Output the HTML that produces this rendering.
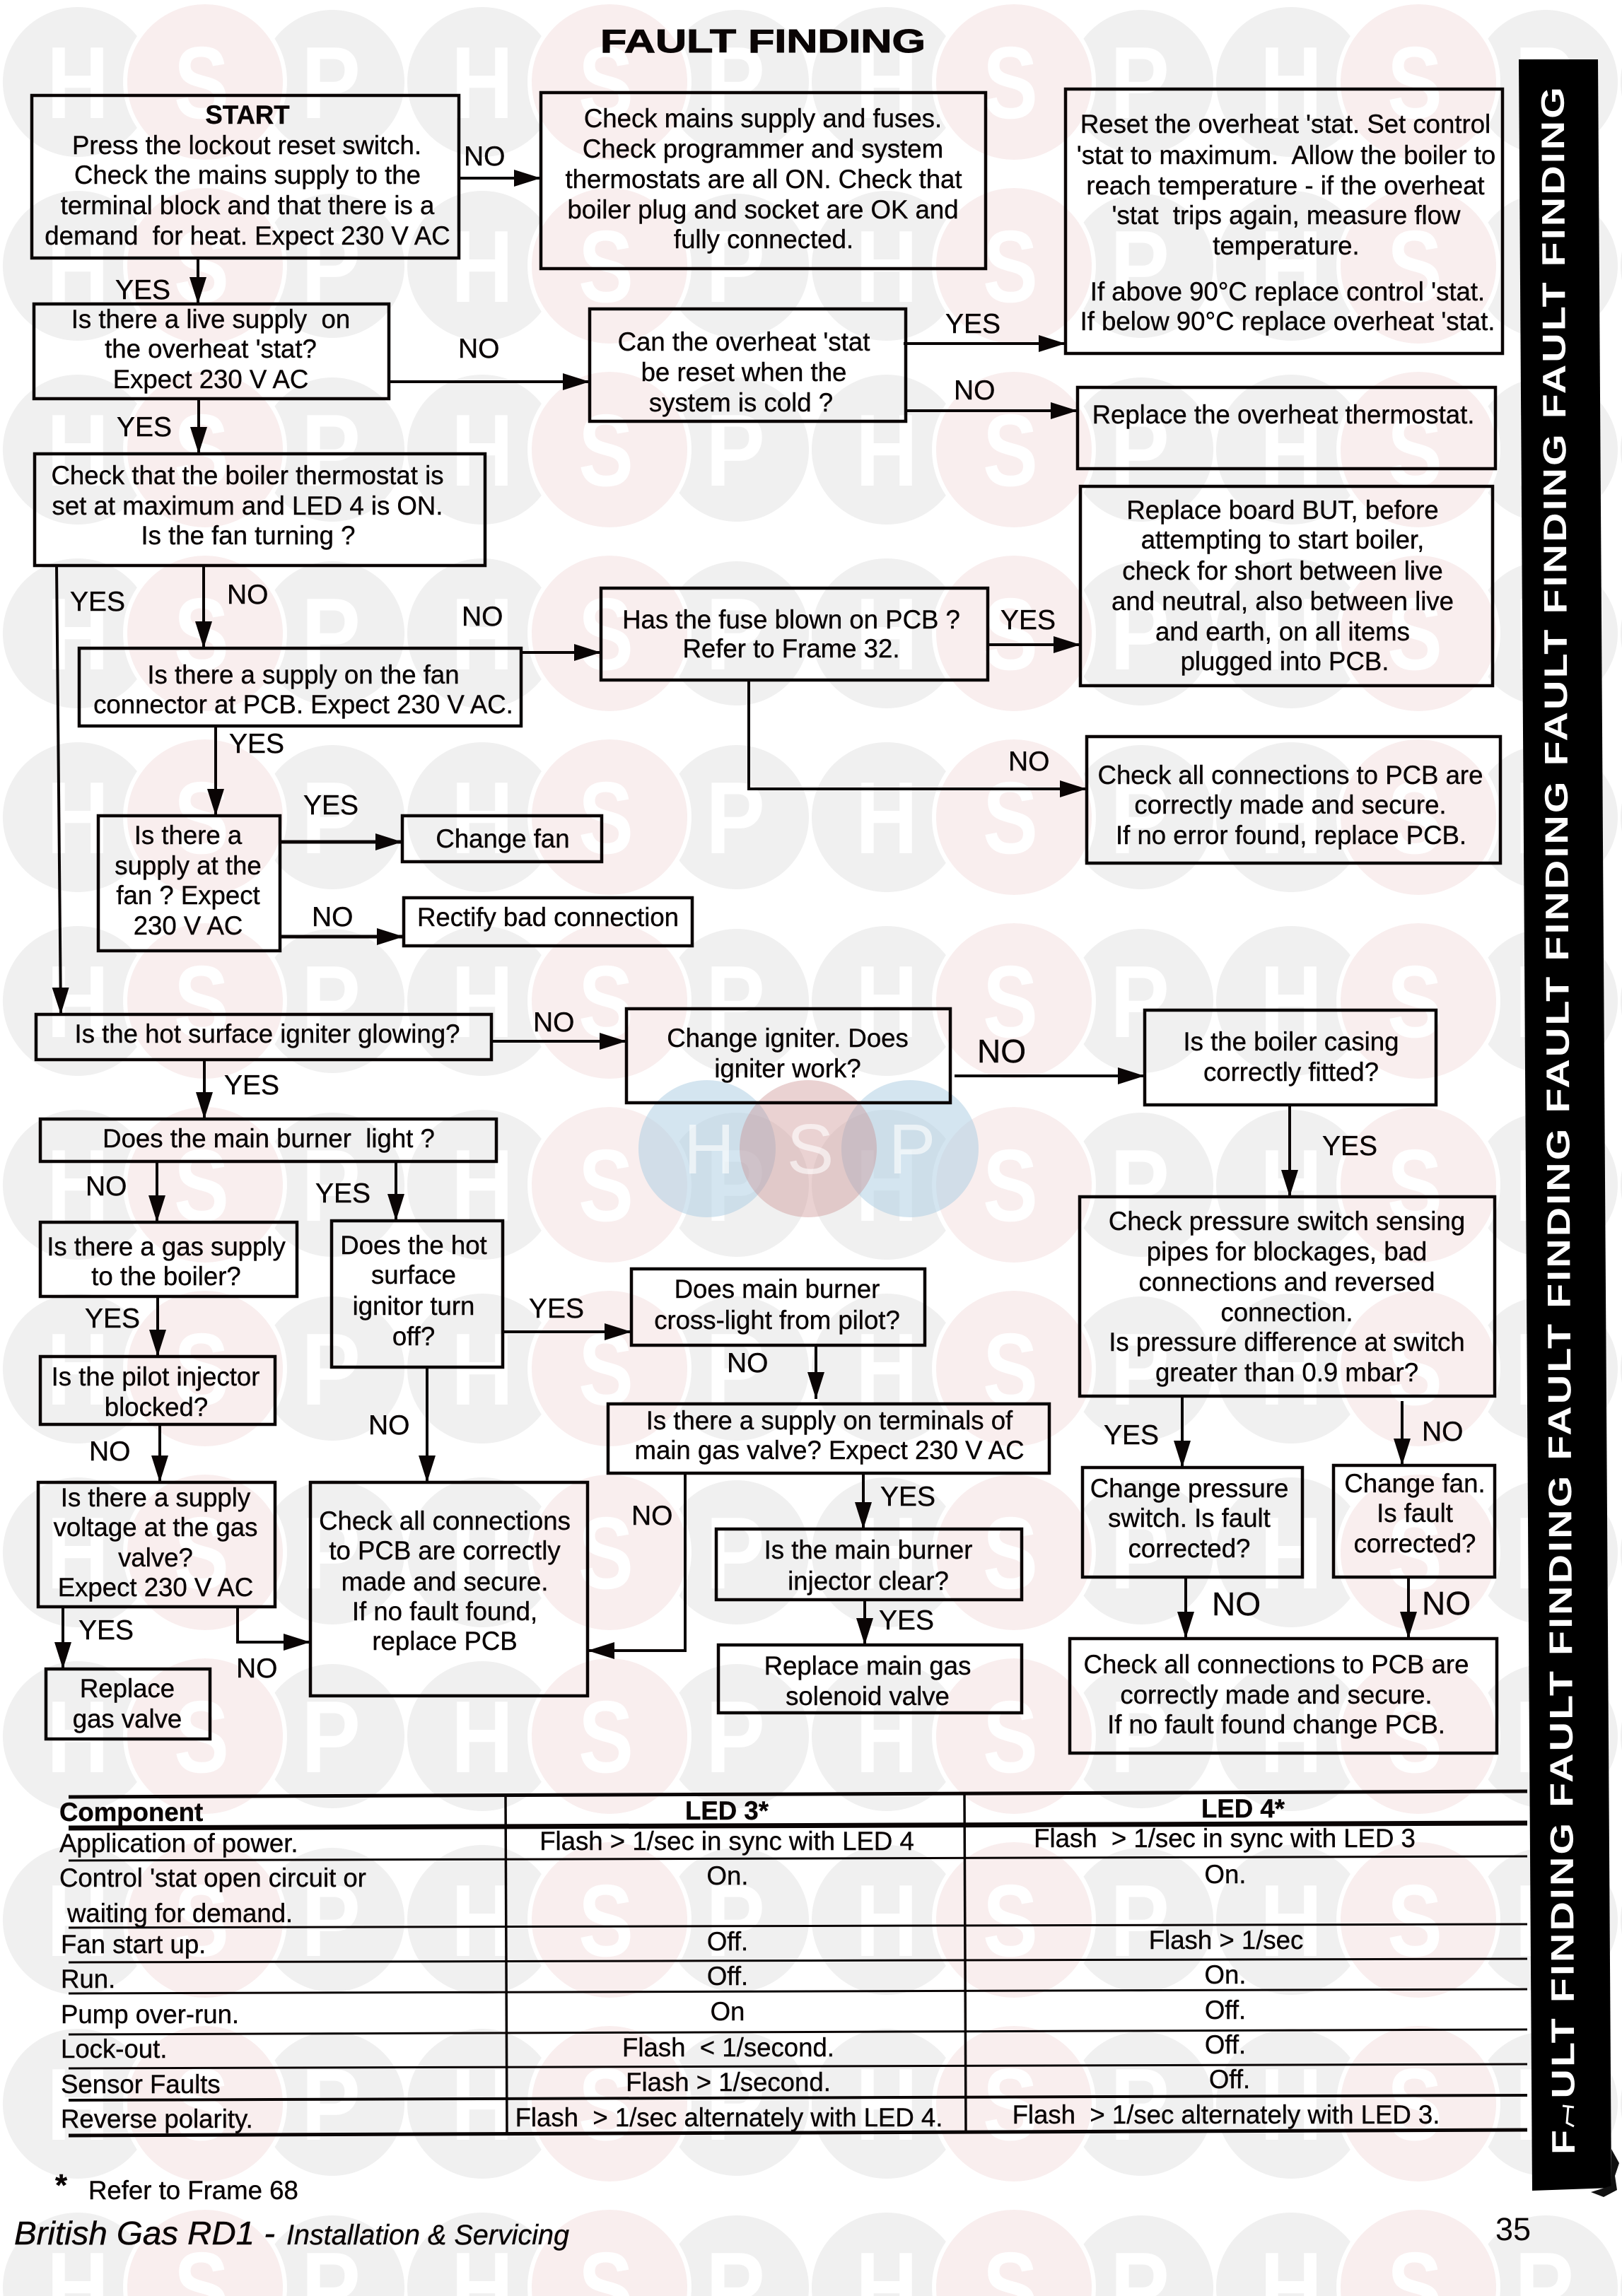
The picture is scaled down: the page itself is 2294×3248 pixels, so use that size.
<!DOCTYPE html>
<html lang="en">
<head>
<meta charset="utf-8">
<title>Fault Finding</title>
<style>
html,body{margin:0;padding:0;background:#fff}
svg{display:block}
text{font-family:"Liberation Sans",sans-serif;white-space:pre}
#t text{font-size:36.6px;text-anchor:middle;fill:#0a0505;stroke:#0a0505;stroke-width:.4}
#t text.l{text-anchor:start}
#t text.b{font-weight:bold}
#y text{font-size:39px;fill:#0a0505;stroke:#0a0505;stroke-width:.4}
#y text.g{font-size:46px}
#w text{font-weight:bold;font-size:145px;fill:#fff;text-anchor:middle}
</style>
</head>
<body>
<svg xmlns="http://www.w3.org/2000/svg" width="2294" height="3248" viewBox="0 0 2294 3248">
<defs>
<pattern id="wm" patternUnits="userSpaceOnUse" x="0" y="0" width="572" height="260">
<g id="w">
<circle cx="110" cy="116" r="106" fill="#f0f0f0"/>
<circle cx="470" cy="116" r="102" fill="#f0f0f0"/>
<circle cx="290" cy="116" r="110" fill="#f9eeee" stroke="#fff" stroke-width="0"/>
<path d="M290 3a113 113 0 1 0 .01 0Z" fill="none" stroke="#fff" stroke-width="6"/>
<text x="110" y="167" textLength="88" lengthAdjust="spacingAndGlyphs">H</text>
<text x="285" y="167" textLength="78" lengthAdjust="spacingAndGlyphs">S</text>
<text x="468" y="167" textLength="84" lengthAdjust="spacingAndGlyphs">P</text>
</g>
</pattern>
<marker id="a" markerUnits="userSpaceOnUse" markerWidth="40" markerHeight="26" refX="38" refY="13" orient="auto"><path d="M0,1 L38,13 L0,25Z" fill="#0a0505"/></marker>
</defs>
<rect width="2294" height="3248" fill="#fff"/>
<rect width="2294" height="3248" fill="url(#wm)"/>

<!-- central watermark -->
<circle cx="1000" cy="1625" r="97" fill="#a9cbe2" fill-opacity=".5"/>
<circle cx="1287" cy="1625" r="97" fill="#a9cbe2" fill-opacity=".5"/>
<circle cx="1143" cy="1625" r="97" fill="#c98a8a" fill-opacity=".38"/>
<g font-size="100" fill="#fff" fill-opacity=".6" text-anchor="middle">
<text x="1003" y="1660">H</text><text x="1146" y="1660">S</text><text x="1290" y="1660">P</text>
</g>

<!-- title -->
<text x="849" y="74" font-size="46" font-weight="bold" fill="#0a0505" stroke="#0a0505" stroke-width="1" textLength="460" lengthAdjust="spacingAndGlyphs">FAULT FINDING</text>

<!-- side band -->
<polygon points="2148,84 2260,84 2279,3095 2167,3099" fill="#000"/>
<polygon points="2279,3040 2290,3060 2284,3078 2287,3098 2268,3108 2250,3101 2279,3092" fill="#111"/>
<text transform="translate(2227,3048) rotate(-90.3) scale(1.25,1)" font-size="46" font-weight="bold" fill="#fff" textLength="2340" lengthAdjust="spacing">FAULT FINDING FAULT FINDING FAULT FINDING FAULT FINDING FAULT FINDING FAULT FINDING</text>
<rect x="2186" y="2970" width="50" height="45" fill="#000"/>
<path d="M2210 2979L2226 2981M2218 2980L2216 3003L2226 3008" stroke="#fff" stroke-width="3" fill="none"/>

<!-- boxes -->
<g fill="none" stroke="#0a0505" stroke-width="4.5">
<rect x="45" y="135" width="604" height="230"/>
<rect x="765" y="131" width="629" height="249"/>
<rect x="1507" y="126" width="618" height="374"/>
<rect x="834" y="437" width="447" height="159"/>
<rect x="48" y="430" width="502" height="134"/>
<rect x="49" y="642" width="637" height="158"/>
<rect x="1524" y="548" width="591" height="115"/>
<rect x="1528" y="688" width="583" height="282"/>
<rect x="850" y="832" width="547" height="130"/>
<rect x="1537" y="1042" width="585" height="179"/>
<rect x="112" y="917" width="625" height="110"/>
<rect x="139" y="1154" width="257" height="191"/>
<rect x="569" y="1154" width="282" height="65"/>
<rect x="571" y="1270" width="408" height="68"/>
<rect x="51" y="1435" width="644" height="64"/>
<rect x="57" y="1583" width="645" height="60"/>
<rect x="57" y="1729" width="363" height="105"/>
<rect x="57" y="1919" width="332" height="96"/>
<rect x="54" y="2097" width="335" height="176"/>
<rect x="65" y="2361" width="232" height="99"/>
<rect x="469" y="1727" width="242" height="207"/>
<rect x="439" y="2097" width="392" height="302"/>
<rect x="886" y="1427" width="458" height="133"/>
<rect x="1619" y="1429" width="412" height="134"/>
<rect x="1527" y="1693" width="587" height="282"/>
<rect x="893" y="1795" width="415" height="108"/>
<rect x="860" y="1986" width="624" height="98"/>
<rect x="1013" y="2163" width="432" height="100"/>
<rect x="1016" y="2327" width="429" height="96"/>
<rect x="1531" y="2076" width="311" height="155"/>
<rect x="1886" y="2073" width="228" height="158"/>
<rect x="1513" y="2318" width="604" height="162"/>
</g>

<!-- connectors -->
<g fill="none" stroke="#0a0505" stroke-width="4">
<path d="M649 252H765" marker-end="url(#a)"/>
<path d="M280 365V430" marker-end="url(#a)"/>
<path d="M550 540H834" marker-end="url(#a)"/>
<path d="M281 564V642" marker-end="url(#a)"/>
<path d="M1278 486H1507" marker-end="url(#a)"/>
<path d="M1281 581H1524" marker-end="url(#a)"/>
<path d="M80 800L86 1435" marker-end="url(#a)"/>
<path d="M288 800V917" marker-end="url(#a)"/>
<path d="M737 923H850" marker-end="url(#a)"/>
<path d="M1397 912H1528" marker-end="url(#a)"/>
<path d="M1059 962V1116H1537" marker-end="url(#a)"/>
<path d="M305 1027V1154" marker-end="url(#a)"/>
<path d="M396 1191H569" stroke-width="5" marker-end="url(#a)"/>
<path d="M396 1325H571" stroke-width="5" marker-end="url(#a)"/>
<path d="M695 1473H886" marker-end="url(#a)"/>
<path d="M289 1499V1583" marker-end="url(#a)"/>
<path d="M222 1643V1729" marker-end="url(#a)"/>
<path d="M560 1643V1727" marker-end="url(#a)"/>
<path d="M223 1834V1919" marker-end="url(#a)"/>
<path d="M226 2015V2097" marker-end="url(#a)"/>
<path d="M89 2273V2361" marker-end="url(#a)"/>
<path d="M336 2273V2323H439" marker-end="url(#a)"/>
<path d="M711 1884H893" marker-end="url(#a)"/>
<path d="M604 1934V2097" marker-end="url(#a)"/>
<path d="M1154 1903V1979" marker-end="url(#a)"/>
<path d="M969 2084V2335H831" marker-end="url(#a)"/>
<path d="M1221 2084V2163" marker-end="url(#a)"/>
<path d="M1223 2263V2327" marker-end="url(#a)"/>
<path d="M1350 1522H1619" marker-end="url(#a)"/>
<path d="M1824 1563V1693" marker-end="url(#a)"/>
<path d="M1672 1975V2076" marker-end="url(#a)"/>
<path d="M1983 1982V2073" marker-end="url(#a)"/>
<path d="M1677 2231V2318" marker-end="url(#a)"/>
<path d="M1992 2231V2318" marker-end="url(#a)"/>
</g>

<!-- table rules -->
<g stroke="#0a0505" fill="none">
<path d="M97 2542L2160 2534" stroke-width="5"/>
<path d="M97 2586L2160 2579" stroke-width="7"/>
<path d="M97 2632L2160 2626" stroke-width="3"/>
<path d="M97 2727L2160 2722" stroke-width="3"/>
<path d="M97 2776L2160 2771" stroke-width="3"/>
<path d="M97 2820L2160 2814" stroke-width="3"/>
<path d="M97 2878L2160 2871" stroke-width="3"/>
<path d="M97 2926L2160 2920" stroke-width="3"/>
<path d="M97 2971L2160 2964" stroke-width="4"/>
<path d="M97 3021L2160 3013" stroke-width="5"/>
<path d="M715 2540L717 3020" stroke-width="3.5"/>
<path d="M1364 2536L1366 3015" stroke-width="3.5"/>
</g>

<!-- box text -->
<g id="t">
<text class="b" x="350" y="175">START</text>
<text x="349" y="218">Press the lockout reset switch.</text>
<text x="350" y="260">Check the mains supply to the</text>
<text x="350" y="303">terminal block and that there is a</text>
<text x="350" y="346">demand  for heat. Expect 230 V AC</text>

<text x="1079" y="180">Check mains supply and fuses.</text>
<text x="1079" y="223">Check programmer and system</text>
<text x="1080" y="266">thermostats are all ON. Check that</text>
<text x="1079" y="309">boiler plug and socket are OK and</text>
<text x="1080" y="351">fully connected.</text>

<text x="1818" y="188">Reset the overheat 'stat. Set control</text>
<text x="1819" y="232">'stat to maximum.  Allow the boiler to</text>
<text x="1818" y="275">reach temperature - if the overheat</text>
<text x="1819" y="317">'stat  trips again, measure flow</text>
<text x="1819" y="360">temperature.</text>
<text x="1821" y="425">If above 90°C replace control 'stat.</text>
<text x="1821" y="467">If below 90°C replace overheat 'stat.</text>

<text x="1052" y="496">Can the overheat 'stat</text>
<text x="1052" y="539">be reset when the</text>
<text x="1048" y="582">system is cold ?</text>

<text x="298" y="464">Is there a live supply  on</text>
<text x="298" y="506">the overheat 'stat?</text>
<text x="298" y="549">Expect 230 V AC</text>

<text x="350" y="685">Check that the boiler thermostat is</text>
<text x="350" y="728">set at maximum and LED 4 is ON.</text>
<text x="351" y="770">Is the fan turning ?</text>

<text x="1815" y="599">Replace the overheat thermostat.</text>

<text x="1814" y="734">Replace board BUT, before</text>
<text x="1814" y="776">attempting to start boiler,</text>
<text x="1814" y="820">check for short between live</text>
<text x="1814" y="863">and neutral, also between live</text>
<text x="1814" y="906">and earth, on all items</text>
<text x="1817" y="948">plugged into PCB.</text>

<text x="1119" y="889">Has the fuse blown on PCB ?</text>
<text x="1119" y="930">Refer to Frame 32.</text>

<text x="1825" y="1109">Check all connections to PCB are</text>
<text x="1825" y="1151">correctly made and secure.</text>
<text x="1826" y="1194">If no error found, replace PCB.</text>

<text x="429" y="967">Is there a supply on the fan</text>
<text x="429" y="1009">connector at PCB. Expect 230 V AC.</text>

<text x="266" y="1194">Is there a</text>
<text x="266" y="1237">supply at the</text>
<text x="266" y="1279">fan ? Expect</text>
<text x="266" y="1322">230 V AC</text>

<text x="711" y="1199">Change fan</text>
<text x="775" y="1310">Rectify bad connection</text>

<text x="378" y="1475">Is the hot surface igniter glowing?</text>
<text x="380" y="1623">Does the main burner  light ?</text>

<text x="235" y="1776">Is there a gas supply</text>
<text x="235" y="1818">to the boiler?</text>

<text x="220" y="1960">Is the pilot injector</text>
<text x="221" y="2003">blocked?</text>

<text x="220" y="2131">Is there a supply</text>
<text x="220" y="2173">voltage at the gas</text>
<text x="220" y="2216">valve?</text>
<text x="220" y="2258">Expect 230 V AC</text>

<text x="180" y="2401">Replace</text>
<text x="180" y="2444">gas valve</text>

<text x="585" y="1774">Does the hot</text>
<text x="585" y="1816">surface</text>
<text x="585" y="1860">ignitor turn</text>
<text x="585" y="1903">off?</text>

<text x="629" y="2164">Check all connections</text>
<text x="629" y="2206">to PCB are correctly</text>
<text x="629" y="2250">made and secure.</text>
<text x="629" y="2292">If no fault found,</text>
<text x="629" y="2334">replace PCB</text>

<text x="1114" y="1481">Change igniter. Does</text>
<text x="1114" y="1524">igniter work?</text>

<text x="1826" y="1486">Is the boiler casing</text>
<text x="1826" y="1529">correctly fitted?</text>

<text x="1820" y="1740">Check pressure switch sensing</text>
<text x="1820" y="1783">pipes for blockages, bad</text>
<text x="1820" y="1826">connections and reversed</text>
<text x="1820" y="1869">connection.</text>
<text x="1820" y="1911">Is pressure difference at switch</text>
<text x="1820" y="1954">greater than 0.9 mbar?</text>

<text x="1099" y="1836">Does main burner</text>
<text x="1099" y="1880">cross-light from pilot?</text>

<text x="1173" y="2022">Is there a supply on terminals of</text>
<text x="1173" y="2064">main gas valve? Expect 230 V AC</text>

<text x="1228" y="2205">Is the main burner</text>
<text x="1228" y="2249">injector clear?</text>

<text x="1227" y="2369">Replace main gas</text>
<text x="1227" y="2412">solenoid valve</text>

<text x="1682" y="2118">Change pressure</text>
<text x="1682" y="2160">switch. Is fault</text>
<text x="1682" y="2203">corrected?</text>

<text x="2001" y="2111">Change fan.</text>
<text x="2001" y="2153">Is fault</text>
<text x="2001" y="2196">corrected?</text>

<text x="1805" y="2367">Check all connections to PCB are</text>
<text x="1805" y="2410">correctly made and secure.</text>
<text x="1805" y="2452">If no fault found change PCB.</text>

<!-- table text -->
<text class="l b" x="84" y="2576">Component</text>
<text class="l" x="84" y="2620">Application of power.</text>
<text class="l" x="84" y="2669">Control 'stat open circuit or</text>
<text class="l" x="95" y="2719">waiting for demand.</text>
<text class="l" x="86" y="2763">Fan start up.</text>
<text class="l" x="86" y="2812">Run.</text>
<text class="l" x="86" y="2862">Pump over-run.</text>
<text class="l" x="86" y="2911">Lock-out.</text>
<text class="l" x="86" y="2961">Sensor Faults</text>
<text class="l" x="86" y="3010">Reverse polarity.</text>

<text class="b" x="1028" y="2574">LED 3*</text>
<text x="1028" y="2617">Flash &gt; 1/sec in sync with LED 4</text>
<text x="1029" y="2666">On.</text>
<text x="1029" y="2759">Off.</text>
<text x="1029" y="2808">Off.</text>
<text x="1029" y="2858">On</text>
<text x="1030" y="2909">Flash  &lt; 1/second.</text>
<text x="1030" y="2958">Flash &gt; 1/second.</text>
<text x="1031" y="3008">Flash  &gt; 1/sec alternately with LED 4.</text>

<text class="b" x="1758" y="2571">LED 4*</text>
<text x="1732" y="2613">Flash  &gt; 1/sec in sync with LED 3</text>
<text x="1733" y="2664">On.</text>
<text x="1734" y="2757">Flash &gt; 1/sec</text>
<text x="1733" y="2806">On.</text>
<text x="1733" y="2856">Off.</text>
<text x="1733" y="2905">Off.</text>
<text x="1739" y="2954">Off.</text>
<text x="1734" y="3004">Flash  &gt; 1/sec alternately with LED 3.</text>

<text class="l b" x="78" y="3106" style="font-size:44px">*</text>
<text class="l" x="125" y="3111">Refer to Frame 68</text>
</g>

<!-- YES / NO labels -->
<g id="y">
<text x="163" y="423">YES</text>
<text x="656" y="234">NO</text>
<text x="648" y="506">NO</text>
<text x="165" y="617">YES</text>
<text x="1337" y="471">YES</text>
<text x="1349" y="565">NO</text>
<text x="99" y="864">YES</text>
<text x="321" y="854">NO</text>
<text x="653" y="885">NO</text>
<text x="324" y="1065">YES</text>
<text x="429" y="1152">YES</text>
<text x="441" y="1310">NO</text>
<text x="1415" y="890">YES</text>
<text x="1426" y="1090">NO</text>
<text x="754" y="1459">NO</text>
<text x="317" y="1548">YES</text>
<text x="121" y="1691">NO</text>
<text x="446" y="1701">YES</text>
<text x="120" y="1878">YES</text>
<text x="748" y="1864">YES</text>
<text x="1028" y="1941">NO</text>
<text x="521" y="2029">NO</text>
<text x="126" y="2066">NO</text>
<text x="893" y="2157">NO</text>
<text x="111" y="2319">YES</text>
<text x="334" y="2373">NO</text>
<text class="g" x="1382" y="1503">NO</text>
<text x="1870" y="1634">YES</text>
<text x="1561" y="2043">YES</text>
<text x="2011" y="2038">NO</text>
<text x="1245" y="2130">YES</text>
<text x="1243" y="2305">YES</text>
<text class="g" x="1714" y="2285">NO</text>
<text class="g" x="2011" y="2284">NO</text>
</g>

<!-- footer -->
<text x="20" y="3175" font-size="46" font-style="italic" fill="#0a0505" stroke="#0a0505" stroke-width=".5" textLength="369" lengthAdjust="spacingAndGlyphs">British Gas RD1 -</text>
<text x="405" y="3175" font-size="40" font-style="italic" fill="#0a0505" stroke="#0a0505" stroke-width=".4" textLength="400" lengthAdjust="spacingAndGlyphs">Installation &amp; Servicing</text>
<text x="2115" y="3169" font-size="45" fill="#0a0505">35</text>
</svg>
</body>
</html>
